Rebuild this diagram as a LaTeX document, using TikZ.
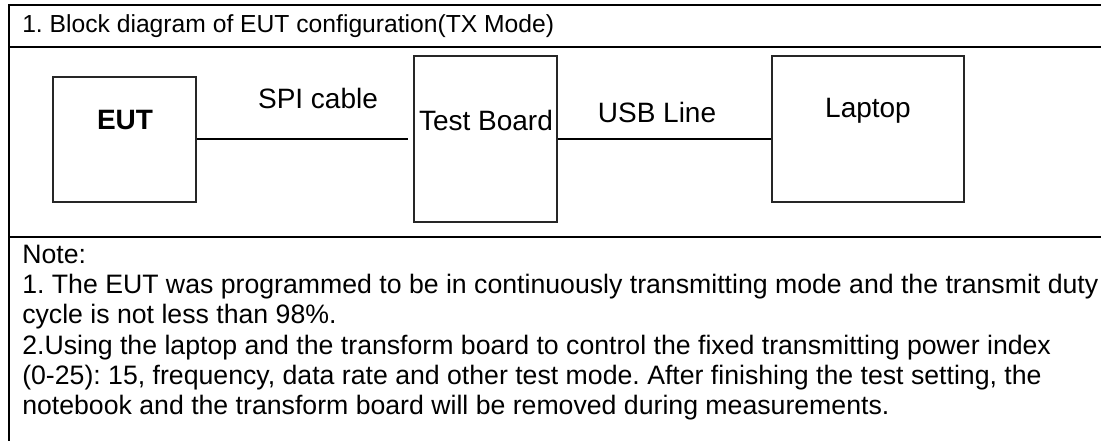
\documentclass[tikz,border=0pt]{standalone}
\usepackage{fontspec}
\setmainfont{Liberation Sans}
\frenchspacing

\begin{document}
\begin{tikzpicture}[x=0.75pt,y=-0.75pt]
\tikzset{
  blockbox/.style={draw=black!85, line width=1.1pt, inner sep=0pt},
  blocktext/.style={font=\fontsize{21}{25}\selectfont, inner sep=0pt},
  notetext/.style={font=\fontsize{20}{24}\selectfont, inner sep=0pt, anchor=base west},
  frameline/.style={line width=1.5pt}
}

\useasboundingbox (0,0) rectangle (1101,441);

% Cadre
\draw[frameline] (9,441) -- (9,5) -- (1101,5);
\draw[frameline] (9,47) -- (1101,47);
\draw[frameline] (9,237) -- (1101,237);

\node[notetext, font=\fontsize{18.5}{22}\selectfont] (title) at (22,33) {1. Block diagram of EUT configuration(TX Mode)};

% Blocs
\node[blockbox, minimum width=107.25pt, minimum height=93.75pt] (eut) at (124.5,139.5) {};
\node[blockbox, minimum width=107.25pt, minimum height=124.5pt] (board) at (485.5,139) {};
\node[blockbox, minimum width=144pt, minimum height=109.5pt] (laptop) at (868,129) {};

\node[blocktext, font=\fontsize{21}{25}\selectfont\bfseries] (eutlabel) at (125,120) {EUT};
\node[blocktext] (boardlabel) at (486,120) {Test Board};
\node[blocktext] (laptoplabel) at (868,111) {Laptop};

% Liaisons
\coordinate (spiend) at (408,139);
\draw[line width=0.9pt] (eut.east |- spiend) -- (spiend);
\draw[line width=0.9pt] (board.east |- spiend) -- (laptop.west |- spiend);
\node[blocktext] (spilabel) at (318,98) {SPI cable};
\node[blocktext] (usblabel) at (657,112) {USB Line};

% Note
\node[notetext] (note0) at (22,264) {Note:};
\node[notetext] (note1) at (22,294) {1. The EUT was programmed to be in continuously transmitting mode and the transmit duty};
\node[notetext] (note2) at (22,324) {cycle is not less than 98\%.};
\node[notetext] (note3) at (22,355) {2.Using the laptop and the transform board to control the fixed transmitting power index};
\node[notetext] (note4) at (22,385) {(0-25): 15, frequency, data rate and other test mode. After finishing the test setting, the};
\node[notetext] (note5) at (22,415) {notebook and the transform board will be removed during measurements.};

\end{tikzpicture}
\end{document}
